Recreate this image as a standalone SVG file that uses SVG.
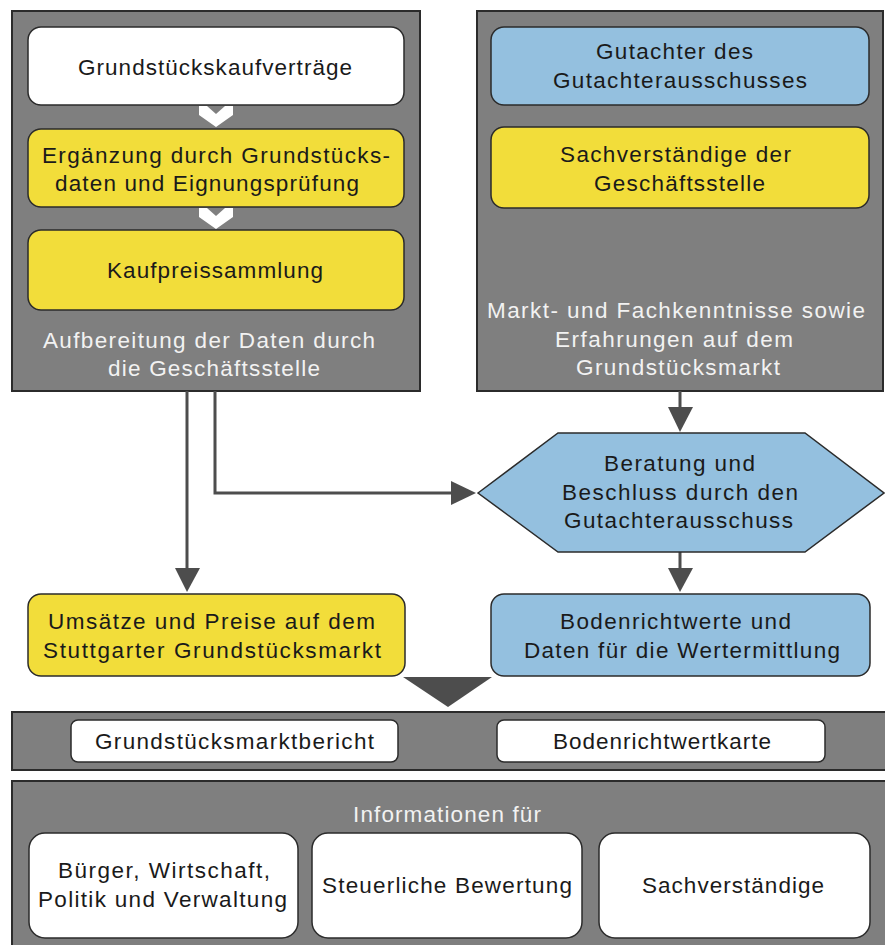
<svg xmlns="http://www.w3.org/2000/svg" width="885" height="945" viewBox="0 0 885 945">
<style>
.panel{fill:#7f7f7f;stroke:#2b2b2b;stroke-width:2}
.box{stroke:#2b2b2b;stroke-width:1.5}
.w{fill:#ffffff}
.y{fill:#f2dd3a}
.b{fill:#94c0df}
text{font-family:"Liberation Sans",Arial,sans-serif;font-size:22.5px;fill:#1a1a1a}
text.lt{fill:#f2f2f2}
.ln{fill:none;stroke:#4d4d4d;stroke-width:3}
.ah{fill:#4d4d4d}
.chev{fill:#ffffff}
</style>
<rect width="885" height="945" fill="#ffffff"/>

<g id="panel-left">
<rect class="panel" x="12" y="11" width="408" height="380"/>
<text class="lt" x="43" y="348" textLength="332" lengthAdjust="spacing">Aufbereitung der Daten durch</text>
<text class="lt" x="108" y="376" textLength="212" lengthAdjust="spacing">die Geschäftsstelle</text>
</g>
<g id="panel-right">
<rect class="panel" x="477" y="11" width="406" height="380"/>
<text class="lt" x="487" y="318" textLength="378" lengthAdjust="spacing">Markt- und Fachkenntnisse sowie</text>
<text class="lt" x="555" y="347" textLength="238" lengthAdjust="spacing">Erfahrungen auf dem</text>
<text class="lt" x="576" y="375" textLength="204" lengthAdjust="spacing">Grundstücksmarkt</text>
</g>

<g id="n1">
<rect class="box w" x="28" y="27" width="376" height="78" rx="13"/>
<text x="78" y="75" textLength="274" lengthAdjust="spacing">Grundstückskaufverträge</text>
</g>
<g id="n2">
<rect class="box y" x="28" y="129" width="376" height="78" rx="13"/>
<text x="42" y="163" textLength="348" lengthAdjust="spacing">Ergänzung durch Grundstücks-</text>
<text x="55" y="191" textLength="304" lengthAdjust="spacing">daten und Eignungsprüfung</text>
</g>
<g id="n3">
<rect class="box y" x="28" y="230" width="376" height="80" rx="13"/>
<text x="107" y="278" textLength="216" lengthAdjust="spacing">Kaufpreissammlung</text>
</g>
<g id="chevrons">
<polygon class="chev" points="199,106 207,106 216,114 225,106 233,106 233,115 216,127 199,115"/>
<polygon class="chev" points="199,208 207,208 216,216 225,208 233,208 233,217 216,229 199,217"/>
</g>

<g id="n4">
<rect class="box b" x="491" y="27" width="378" height="78" rx="13"/>
<text x="596" y="59" textLength="157" lengthAdjust="spacing">Gutachter des</text>
<text x="553" y="88" textLength="254" lengthAdjust="spacing">Gutachterausschusses</text>
</g>
<g id="n5">
<rect class="box y" x="491" y="127" width="378" height="81" rx="13"/>
<text x="560" y="162" textLength="231" lengthAdjust="spacing">Sachverständige der</text>
<text x="594" y="191" textLength="171" lengthAdjust="spacing">Geschäftsstelle</text>
</g>

<g id="connectors">
<polyline class="ln" points="187,391 187,570"/>
<polygon class="ah" points="175,568 200,568 187,592"/>
<polyline class="ln" points="215,391 215,493 453,493"/>
<polygon class="ah" points="451,481 451,505 476,493"/>
<polyline class="ln" points="680,391 680,409"/>
<polygon class="ah" points="668,407 693,407 680,432"/>
<polyline class="ln" points="680,552 680,570"/>
<polygon class="ah" points="668,568 693,568 680,592"/>
<polygon class="ah" points="403,677 492,677 448,707"/>
</g>

<g id="n6">
<polygon class="box b" points="478,493 558,433 805,433 884,493 805,552 558,552"/>
<text x="604" y="471" textLength="151" lengthAdjust="spacing">Beratung und</text>
<text x="562" y="500" textLength="236" lengthAdjust="spacing">Beschluss durch den</text>
<text x="564" y="528" textLength="229" lengthAdjust="spacing">Gutachterausschuss</text>
</g>
<g id="n7">
<rect class="box y" x="28" y="594" width="377" height="82" rx="13"/>
<text x="48" y="629" textLength="327" lengthAdjust="spacing">Umsätze und Preise auf dem</text>
<text x="43" y="658" textLength="338" lengthAdjust="spacing">Stuttgarter Grundstücksmarkt</text>
</g>
<g id="n8">
<rect class="box b" x="491" y="594" width="379" height="82" rx="13"/>
<text x="560" y="629" textLength="231" lengthAdjust="spacing">Bodenrichtwerte und</text>
<text x="524" y="658" textLength="316" lengthAdjust="spacing">Daten für die Wertermittlung</text>
</g>

<g id="bar-products">
<rect class="panel" x="12" y="712" width="880" height="58"/>
</g>
<g id="n9">
<rect class="box w" x="71" y="720" width="327" height="42" rx="7"/>
<text x="95" y="749" textLength="279" lengthAdjust="spacing">Grundstücksmarktbericht</text>
</g>
<g id="n10">
<rect class="box w" x="497" y="720" width="328" height="42" rx="7"/>
<text x="553" y="749" textLength="218" lengthAdjust="spacing">Bodenrichtwertkarte</text>
</g>

<g id="bar-info">
<rect class="panel" x="12" y="781" width="880" height="180"/>
<text class="lt" x="353" y="822" textLength="188" lengthAdjust="spacing">Informationen für</text>
</g>
<g id="n11">
<rect class="box w" x="29" y="833" width="269" height="105" rx="16"/>
<text x="58" y="878" textLength="212" lengthAdjust="spacing">Bürger, Wirtschaft,</text>
<text x="38" y="907" textLength="249" lengthAdjust="spacing">Politik und Verwaltung</text>
</g>
<g id="n12">
<rect class="box w" x="312" y="833" width="270" height="105" rx="16"/>
<text x="322" y="893" textLength="250" lengthAdjust="spacing">Steuerliche Bewertung</text>
</g>
<g id="n13">
<rect class="box w" x="599" y="833" width="271" height="105" rx="16"/>
<text x="642" y="893" textLength="182" lengthAdjust="spacing">Sachverständige</text>
</g>
</svg>
